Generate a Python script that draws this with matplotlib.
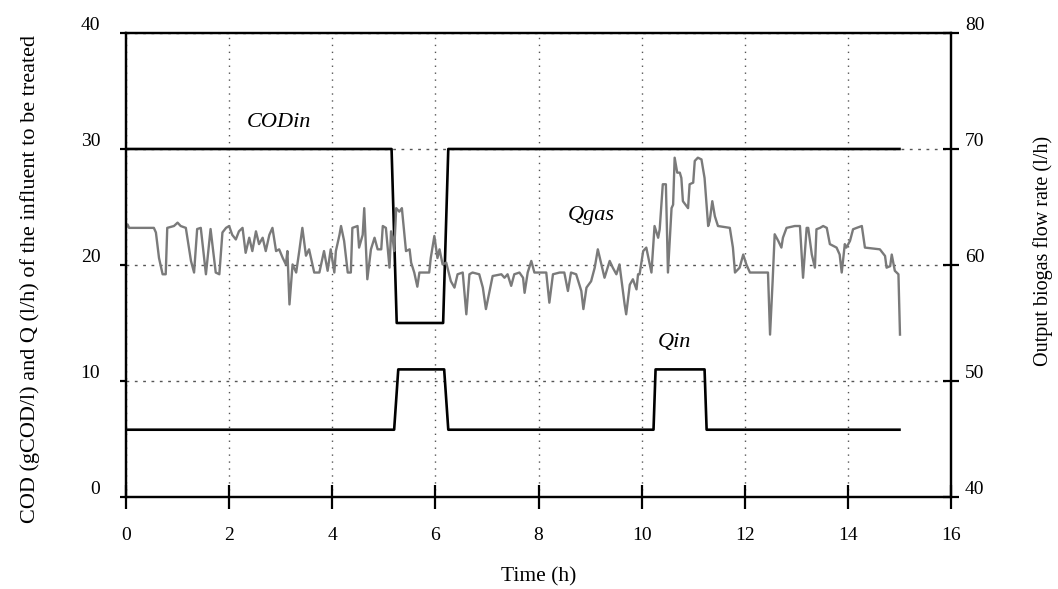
import matplotlib
matplotlib.use("Agg")
import matplotlib.pyplot as plt
from matplotlib.transforms import ScaledTranslation

plt.rcParams['font.family'] = ['Liberation Serif', 'DejaVu Serif']

# influent COD (gCOD/l), step profile
cod_t = [0, 5.15, 5.25, 6.15, 6.25, 15]
cod_v = [30, 30, 15, 15, 30, 30]

# influent flow rate Qin (l/h)
qin_t = [0, 5.2, 5.28, 6.17, 6.25, 10.23, 10.27, 11.22, 11.26, 15]
qin_v = [5.8, 5.8, 11, 11, 5.8, 5.8, 11, 11, 5.8, 5.8]

# output biogas flow rate Qgas (l/h)
qgas_t = [0.00, 0.03, 0.06, 0.54, 0.58, 0.64, 0.71, 0.77, 0.80, 0.93, 1.00, 1.06, 1.16, 1.26,
          1.32, 1.38, 1.45, 1.55, 1.64, 1.74, 1.81, 1.87, 1.94, 2.00, 2.06, 2.13, 2.19, 2.26,
          2.32, 2.39, 2.45, 2.52, 2.58, 2.65, 2.71, 2.78, 2.84, 2.91, 2.97, 3.04, 3.10, 3.13,
          3.17, 3.23, 3.30, 3.36, 3.42, 3.49, 3.55, 3.65, 3.75, 3.84, 3.91, 3.97, 4.04, 4.07,
          4.14, 4.17, 4.23, 4.30, 4.36, 4.39, 4.49, 4.52, 4.59, 4.62, 4.68, 4.75, 4.82, 4.88,
          4.95, 4.98, 5.04, 5.11, 5.14, 5.17, 5.20, 5.24, 5.30, 5.35, 5.43, 5.50, 5.53, 5.59,
          5.65, 5.69, 5.75, 5.88, 5.91, 5.98, 6.04, 6.08, 6.14, 6.21, 6.30, 6.37, 6.43, 6.53,
          6.60, 6.66, 6.72, 6.85, 6.92, 6.98, 7.05, 7.11, 7.28, 7.34, 7.40, 7.47, 7.53, 7.63,
          7.70, 7.73, 7.79, 7.86, 7.92, 8.02, 8.15, 8.21, 8.28, 8.41, 8.50, 8.57, 8.63, 8.73,
          8.83, 8.87, 8.93, 9.02, 9.09, 9.15, 9.22, 9.28, 9.38, 9.44, 9.51, 9.57, 9.67, 9.70,
          9.77, 9.83, 9.90, 9.93, 9.96, 10.03, 10.09, 10.19, 10.25, 10.32, 10.35, 10.41, 10.47,
          10.51, 10.58, 10.61, 10.64, 10.69, 10.74, 10.77, 10.80, 10.90, 10.93, 11.00, 11.03,
          11.09, 11.16, 11.22, 11.29, 11.32, 11.37, 11.42, 11.48, 11.71, 11.77, 11.81, 11.90,
          11.97, 12.03, 12.10, 12.45, 12.49, 12.54, 12.58, 12.65, 12.71, 12.74, 12.81, 12.97,
          13.07, 13.13, 13.20, 13.23, 13.30, 13.36, 13.39, 13.46, 13.52, 13.59, 13.65, 13.78,
          13.84, 13.88, 13.94, 13.97, 14.04, 14.10, 14.17, 14.27, 14.33, 14.62, 14.72, 14.75,
          14.82, 14.85, 14.91, 14.98, 15.01]
qgas_v = [63.2, 63.5, 63.2, 63.2, 62.8, 60.6, 59.2, 59.2, 63.2, 63.36, 63.65, 63.36, 63.2, 60.35,
          59.35, 63.1, 63.2, 59.2, 63.1, 59.35, 59.2, 62.8, 63.2, 63.36, 62.6, 62.2, 62.9, 63.2,
          61.05, 62.35, 61.2, 62.9, 61.8, 62.35, 61.2, 62.6, 63.2, 61.2, 61.35, 60.6, 60.05, 61.2,
          56.6, 60.05, 59.35, 61.2, 63.2, 60.8, 61.35, 59.35, 59.35, 61.2, 59.5, 61.35, 59.35, 61.2,
          62.6, 63.36, 62.07, 59.35, 59.35, 63.2, 63.36, 61.5, 62.6, 64.9, 58.77, 61.35, 62.35, 61.35,
          61.35, 63.36, 63.2, 59.77, 62.9, 62.35, 61.2, 64.9, 64.6, 64.9, 61.2, 61.35, 60.2, 59.35,
          58.13, 59.35, 59.35, 59.35, 60.6, 62.5, 60.6, 61.35, 60.05, 60.2, 58.6, 58.05, 59.2, 59.35,
          55.75, 59.2, 59.35, 59.2, 58.05, 56.2, 57.76, 59.05, 59.2, 58.9, 59.2, 58.2, 59.2, 59.35,
          58.9, 57.6, 59.35, 60.35, 59.35, 59.35, 59.35, 56.75, 59.2, 59.35, 59.35, 57.76, 59.35, 59.2,
          57.76, 56.2, 58.05, 58.6, 59.77, 61.35, 60.05, 58.9, 60.35, 59.77, 59.2, 60.05, 56.6, 55.75,
          58.3, 58.77, 57.9, 59.2, 59.2, 61.2, 61.5, 59.35, 63.36, 62.35, 63.08, 66.96, 66.96,
          59.35, 64.9, 65.2, 69.25, 67.96, 67.96, 67.5, 65.5, 64.9, 66.96, 67.1, 68.97,
          69.25, 69.1, 67.5, 63.36, 63.8, 65.5, 64.2, 63.36, 63.2, 61.5, 59.35, 59.77,
          60.9, 60.05, 59.35, 59.35, 54.0, 58.6, 62.65, 62.07, 61.5, 62.35, 63.2, 63.36,
          63.36, 58.9, 63.2, 63.2, 60.9, 59.77, 63.08, 63.2, 63.36, 63.2, 61.8, 61.5,
          60.9, 59.35, 61.8, 61.5, 62.07, 63.08, 63.2, 63.36, 61.5, 61.35, 60.78, 59.77,
          59.9, 60.9, 59.5, 59.2, 54.0]

fig = plt.figure(figsize=(10.58, 5.89), dpi=100)
ax = fig.add_axes([0.1191, 0.1562, 0.7798, 0.7878])
ax2 = ax.twinx()

ax.plot(cod_t, cod_v, color='black', lw=1.9, zorder=3)
ax.plot(qin_t, qin_v, color='black', lw=1.9, zorder=3)
ax2.plot(qgas_t, qgas_v, color='#7a7a7a', lw=1.7, zorder=2)

ax.set_xlim(0, 16)
ax.set_ylim(0, 40)
ax2.set_ylim(40, 80)
ax.set_xticks(range(0, 17, 2))
ax.set_yticks([0, 10, 20, 30, 40])
ax2.set_yticks([40, 50, 60, 70, 80])

# gridlines
ax.xaxis.grid(True, color='#555555', lw=1.0, linestyle=(0, (1, 4)))
ax.yaxis.grid(True, color='#555555', lw=1.0, linestyle=(0, (2, 4)))
ax.set_axisbelow(True)

for a in (ax, ax2):
    for s in a.spines.values():
        s.set_linewidth(1.6)
        s.set_color('black')

ax.tick_params(axis='x', direction='inout', length=17, width=1.6, pad=13, labelsize=14)
ax.tick_params(axis='y', direction='out', length=4.5, width=1.6, pad=14, labelsize=14)
ax2.tick_params(axis='y', direction='inout', length=12, width=1.6, pad=4, labelsize=14)

# tick labels sit a bit above their ticks in the original
shift = ScaledTranslation(0, 7 / 72, fig.dpi_scale_trans)
for lab in ax.get_yticklabels() + ax2.get_yticklabels():
    lab.set_transform(lab.get_transform() + shift)

ax.set_xlabel('Time (h)', fontsize=15.5, labelpad=17)
ax.set_ylabel('COD (gCOD/l) and Q (l/h) of the influent to be treated', fontsize=16)
ax.yaxis.set_label_coords(-0.104, 0.47)
ax2.set_ylabel('Output biogas flow rate (l/h)', fontsize=14.5, rotation=90)
ax2.yaxis.set_label_coords(1.099, 0.53)

ax.text(2.97, 32.3, 'CODin', fontsize=16, style='italic', ha='center', va='center')
ax.text(9.03, 24.3, 'Qgas', fontsize=16, style='italic', ha='center', va='center')
ax.text(10.64, 13.3, 'Qin', fontsize=16, style='italic', ha='center', va='center')

fig.savefig('out.png', dpi=100)
